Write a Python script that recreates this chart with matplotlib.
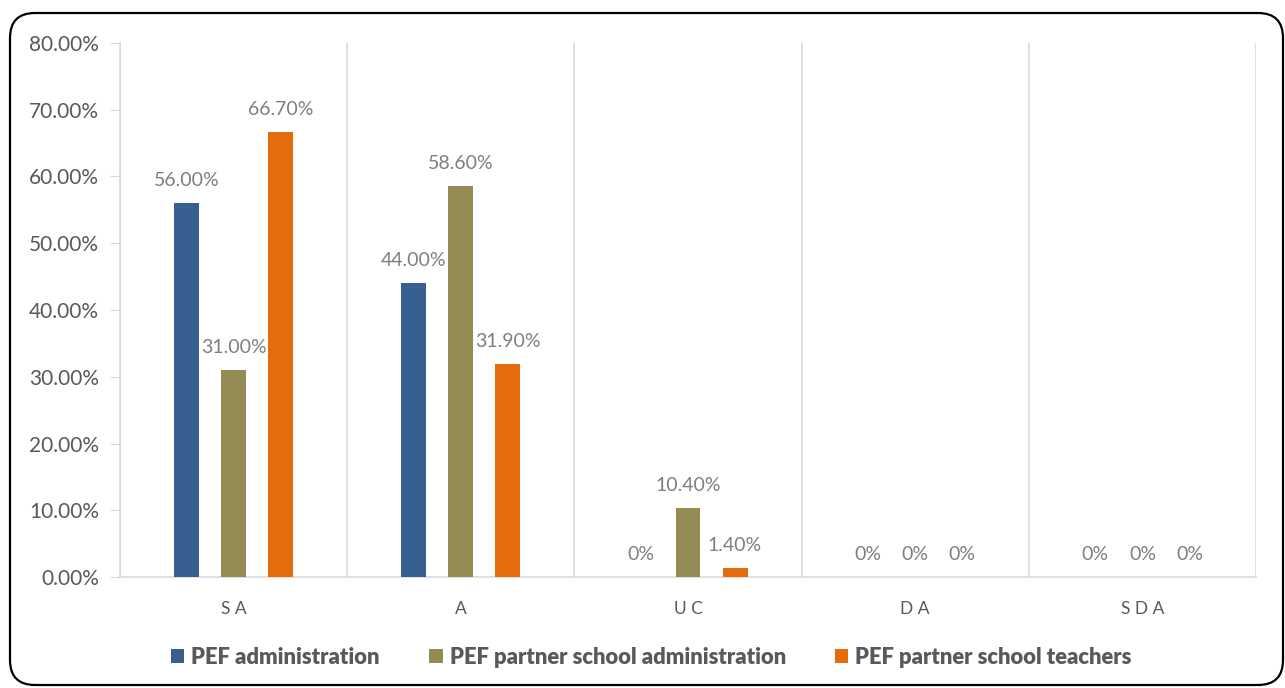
import matplotlib.pyplot as plt
import numpy as np
from matplotlib.patches import FancyBboxPatch
from matplotlib.transforms import IdentityTransform

categories = ["S A", "A", "U C", "D A", "S D A"]
series = ["PEF administration", "PEF partner school administration", "PEF partner school teachers"]
pef_admin = [56.0, 44.0, 0.0, 0.0, 0.0]
partner_admin = [31.0, 58.6, 10.4, 0.0, 0.0]
partner_teachers = [66.7, 31.9, 1.4, 0.0, 0.0]
colors = ["#376091", "#948A54", "#E46C0A"]

plt.rcParams['font.family'] = ['Lato', 'DejaVu Sans']

fig = plt.figure(figsize=(12.85, 6.88), dpi=100)
ax = fig.add_axes([120 / 1285, 111 / 688, 1136 / 1285, 534 / 688])

x = np.arange(len(categories))
offset = 0.207
width = 0.11
for i, vals in enumerate([pef_admin, partner_admin, partner_teachers]):
	bars = ax.bar(x + (i - 1) * offset, vals, width, color=colors[i], label=series[i], zorder=3)
	labels = ["0%" if v == 0 else "%.2f%%" % v for v in vals]
	ax.bar_label(bars, labels=labels, padding=10, color="#7f7f7f", fontsize=14)

ax.set_xlim(-0.5, 4.5)
ax.set_ylim(0, 80)
ax.set_yticks(np.arange(0, 81, 10))
ax.set_yticklabels(["%.2f%%" % v for v in np.arange(0, 81, 10)])
ax.set_xticks(x)
ax.set_xticklabels(categories)
ax.set_xticks(np.arange(-0.5, 5, 1), minor=True)
ax.grid(True, axis='x', which='minor', color="#d9d9d9", linewidth=1.2, zorder=0)
ax.tick_params(axis='x', which='both', length=0, pad=17, labelsize=12.5, labelcolor="#595959")
ax.tick_params(axis='y', length=7, color="#d9d9d9", pad=8, labelsize=15, labelcolor="#595959")
for s in ['top', 'right']:
	ax.spines[s].set_visible(False)
ax.spines['left'].set_color("#d9d9d9")
ax.spines['bottom'].set_color("#d9d9d9")
ax.spines['left'].set_linewidth(1.2)
ax.spines['bottom'].set_linewidth(1.2)

fig.legend(loc='center', bbox_to_anchor=(0.507, 0.045), ncol=3, frameon=False,
	prop={'weight': 'heavy', 'size': 15.8}, labelcolor="#595959",
	handlelength=0.6, handleheight=0.6, handletextpad=0.32, columnspacing=2.25)

border = FancyBboxPatch((10, 3), 1273, 672, boxstyle="round,pad=0,rounding_size=25",
	transform=IdentityTransform(), fill=False, edgecolor="black", linewidth=1.6)
fig.add_artist(border)

fig.savefig("out.png", dpi=100)
